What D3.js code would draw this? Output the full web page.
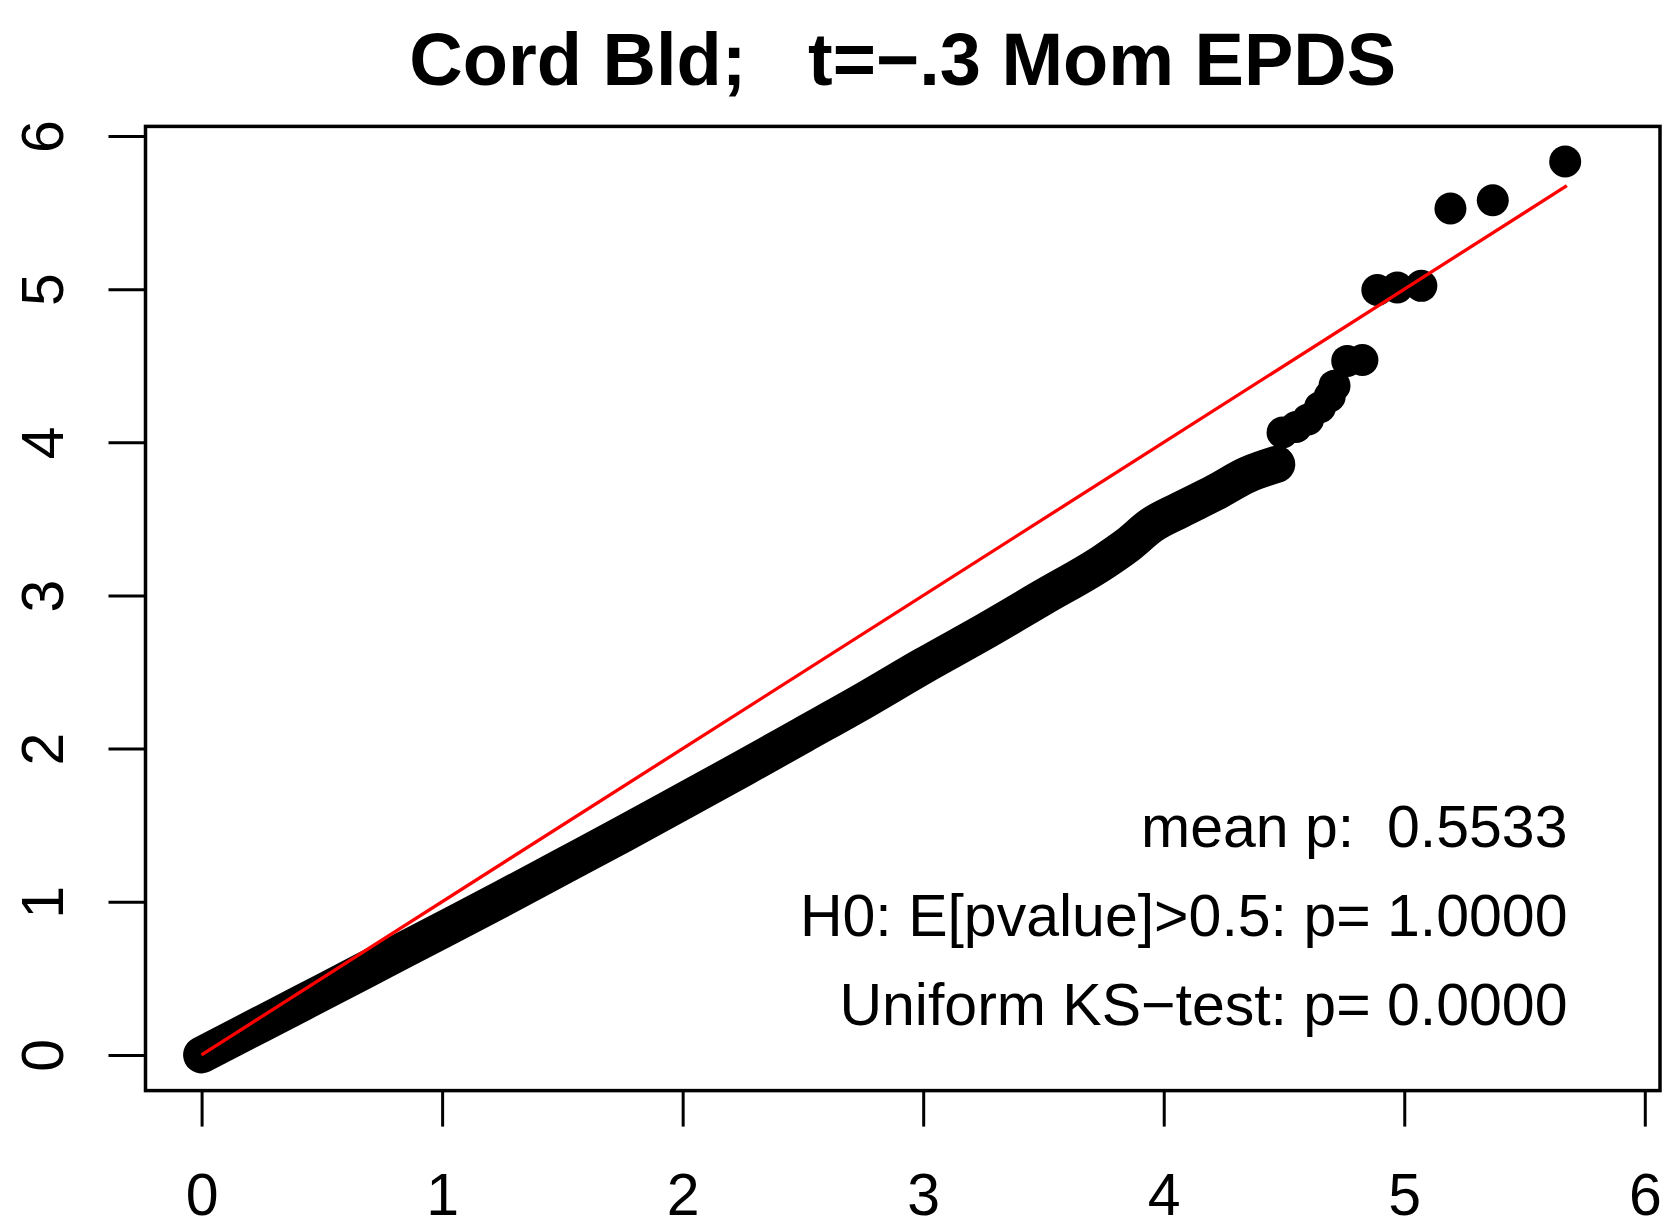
<!DOCTYPE html>
<html><head><meta charset="utf-8">
<script src="https://cdn.jsdelivr.net/npm/d3@7"></script>
<style>
body{margin:0;background:#fff}
text{font-family:"Liberation Sans",Arial,Helvetica,sans-serif;fill:#000}
</style>
</head><body>
<svg id="chart" width="1665" height="1227"></svg>
<script>
// ---- data ----
const chartTitle = "Cord Bld;   t=\u2212.3 Mom EPDS";
const xTicks = [0, 1, 2, 3, 4, 5, 6];
const yTicks = [0, 1, 2, 3, 4, 5, 6];
const axisLimits = [0, 5.83];
// dense part of the QQ points (expected vs observed -log10 p)
const expectedBand = [0, 0.25, 0.5, 0.75, 1.0, 1.25, 1.5, 1.75, 2.0, 2.25, 2.5, 2.75, 3.0, 3.25, 3.5, 3.75, 3.85, 3.95, 4.07, 4.21, 4.35, 4.47];
const observedBand = [0, 0.203, 0.407, 0.611, 0.815, 1.02, 1.23, 1.44, 1.655, 1.87, 2.09, 2.31, 2.54, 2.76, 2.99, 3.22, 3.33, 3.46, 3.56, 3.67, 3.79, 3.857];
// sparse tail points
const expectedTail = [4.494, 4.55, 4.60, 4.65, 4.69, 4.71, 4.763, 4.826, 4.888, 4.971, 5.071, 5.192, 5.368, 5.669];
const observedTail = [4.064, 4.10, 4.15, 4.23, 4.30, 4.37, 4.532, 4.538, 4.995, 5.011, 5.022, 5.527, 5.581, 5.834];
// identity reference line
const refLine = [0, 5.676];
const statLabels = ["mean p:  0.5533", "H0: E[pvalue]>0.5: p= 1.0000", "Uniform KS\u2212test: p= 0.0000"];

// ---- layout ----
const box = {left: 145.5, right: 1660, top: 126.4, bottom: 1090.6};
const ext = (axisLimits[1] - axisLimits[0]) * 0.04;
const dom = [axisLimits[0] - ext, axisLimits[1] + ext];

const svg = d3.select("#chart");
const x = d3.scaleLinear().domain(dom).range([box.left, box.right]);
const y = d3.scaleLinear().domain(dom).range([box.bottom, box.top]);

const band = expectedBand.map((e, i) => [e, observedBand[i]]);
const tail = expectedTail.map((e, i) => [e, observedTail[i]]);
const R = 16;

// dense band of overlapping points
svg.append("path")
  .datum(band)
  .attr("d", d3.line().x(d => x(d[0])).y(d => y(d[1])).curve(d3.curveMonotoneX))
  .attr("fill", "none").attr("stroke", "#000")
  .attr("stroke-width", 37)
  .attr("stroke-linecap", "round").attr("stroke-linejoin", "round");

svg.append("g").selectAll("circle")
  .data(band.concat(tail))
  .join("circle")
  .attr("cx", d => x(d[0])).attr("cy", d => y(d[1]))
  .attr("r", R).attr("fill", "#000");

// red identity line
svg.append("line")
  .attr("x1", x(refLine[0])).attr("y1", y(refLine[0]))
  .attr("x2", x(refLine[1])).attr("y2", y(refLine[1]))
  .attr("stroke", "#ff0000").attr("stroke-width", 3.3);

// box
svg.append("rect")
  .attr("x", box.left).attr("y", box.top)
  .attr("width", box.right - box.left).attr("height", box.bottom - box.top)
  .attr("fill", "none").attr("stroke", "#000").attr("stroke-width", 3.5);

// x axis
const gx = svg.append("g").attr("transform", `translate(0,${box.bottom})`)
  .call(d3.axisBottom(x).tickValues(xTicks).tickSize(36).tickFormat(d3.format("d")));
gx.select(".domain").remove();
gx.selectAll(".tick line").attr("stroke", "#000").attr("stroke-width", 3);
gx.selectAll(".tick text")
  .attr("y", 124).attr("dy", 0)
  .style("font-size", "59px").style("font-family", "'Liberation Sans',Arial,sans-serif").attr("fill", "#000");

// y axis
const gy = svg.append("g").attr("transform", `translate(${box.left},0)`)
  .call(d3.axisLeft(y).tickValues(yTicks).tickSize(37).tickFormat(d3.format("d")));
gy.select(".domain").remove();
gy.selectAll(".tick line").attr("stroke", "#000").attr("stroke-width", 3);
gy.selectAll(".tick text")
  .attr("x", 0).attr("dy", 0).attr("text-anchor", "middle")
  .attr("transform", "translate(-82.5,0) rotate(-90)")
  .style("font-size", "59px").style("font-family", "'Liberation Sans',Arial,sans-serif").attr("fill", "#000");

// title
svg.append("text")
  .attr("x", (box.left + box.right) / 2).attr("y", 85)
  .attr("text-anchor", "middle")
  .style("font-size", "74px").style("font-weight", "bold").style("white-space", "pre")
  .text(chartTitle);

// stats text
svg.append("g").selectAll("text")
  .data(statLabels)
  .join("text")
  .attr("x", 1567.5)
  .attr("y", (d, i) => 847 + i * 88.8)
  .attr("text-anchor", "end")
  .style("font-size", "59px").style("white-space", "pre")
  .text(d => d);
</script>
</body></html>
